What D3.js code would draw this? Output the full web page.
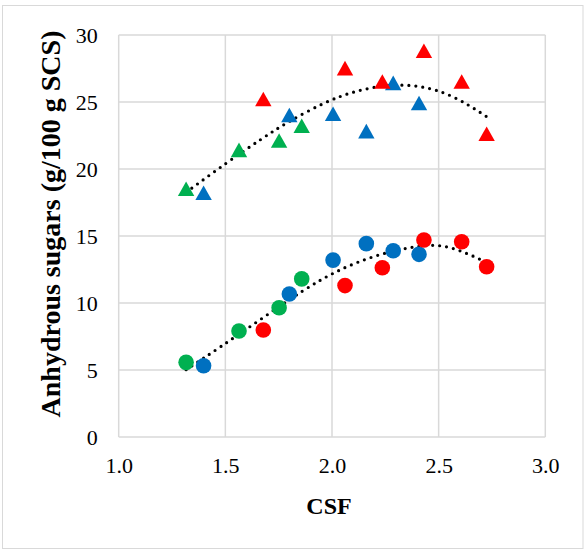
<!DOCTYPE html>
<html>
<head>
<meta charset="utf-8">
<script src="https://cdn.jsdelivr.net/npm/d3@7"></script>
<style>
  html, body { margin: 0; padding: 0; background: #fff; }
  svg { display: block; }
</style>
</head>
<body>
<svg id="chart" width="584" height="550"></svg>
<script>
// CSF values per group (shared by both responses)
const greenCSF = [1.316, 1.564, 1.752, 1.858];
const blueCSF  = [1.398, 1.800, 2.005, 2.161, 2.287, 2.408];
const redCSF   = [1.678, 2.061, 2.236, 2.431, 2.608, 2.725];

// Upper response (triangles)
const greenTri = [18.4, 21.3, 22.0, 23.1];
const blueTri  = [18.1, 23.9, 24.0, 22.7, 26.3, 24.8];
const redTri   = [25.1, 27.4, 26.4, 28.7, 26.4, 22.5];

// Lower response (circles)
const greenCirc = [5.57, 7.91, 9.65, 11.8];
const blueCirc  = [5.32, 10.67, 13.2, 14.43, 13.9, 13.63];
const redCirc   = [7.98, 11.3, 12.63, 14.7, 14.57, 12.71];

// Polynomial (order 2) trend lines, sampled along the CSF range
const trendCSF   = [1.316, 1.503, 1.662, 1.795, 1.962, 2.109, 2.261, 2.413, 2.565, 2.697, 2.725];
const trendUpper = [18.26, 20.42, 22.16, 23.50, 24.90, 25.77, 26.22, 26.14, 25.40, 24.20, 23.90];
const trendLowerCSF = [1.316, 1.478, 1.670, 1.862, 2.029, 2.209, 2.394, 2.548, 2.694, 2.725];
const trendLower    = [5.02, 6.74, 8.83, 10.89, 12.40, 13.53, 14.20, 14.15, 13.26, 13.05];

const xTicks = [1.0, 1.5, 2.0, 2.5, 3.0];
const yTicks = [0, 5, 10, 15, 20, 25, 30];

const colors = { green: "#00B050", blue: "#0070C0", red: "#FF0000" };
const FONT = '"Liberation Serif", "Times New Roman", Times, serif';

const svg = d3.select("#chart").attr("font-family", FONT);
const W = 584, H = 550;
const plot = { left: 118.7, right: 545.3, top: 35, bottom: 437 };

// outer chart frame
svg.append("rect")
  .attr("x", 2.5).attr("y", 5.5)
  .attr("width", W - 3.5).attr("height", H - 7)
  .attr("fill", "#fff").attr("stroke", "#D9D9D9").attr("stroke-width", 1);

const x = d3.scaleLinear().domain([1, 3]).range([plot.left, plot.right]);
const y = d3.scaleLinear().domain([0, 30]).range([plot.bottom, plot.top]);

// gridlines
const grid = svg.append("g").attr("stroke", "#D9D9D9").attr("stroke-width", 1.5);
grid.selectAll("line.v").data(xTicks).join("line")
  .attr("x1", d => x(d)).attr("x2", d => x(d))
  .attr("y1", plot.top).attr("y2", plot.bottom);
grid.selectAll("line.h").data(yTicks).join("line")
  .attr("x1", plot.left).attr("x2", plot.right)
  .attr("y1", d => y(d)).attr("y2", d => y(d));

// axes (tick labels only; lines come from the grid)
const xAxis = svg.append("g")
  .attr("transform", `translate(0,${plot.bottom})`)
  .call(d3.axisBottom(x).tickValues(xTicks).tickFormat(d3.format(".1f")).tickSize(0).tickPadding(20));
const yAxis = svg.append("g")
  .attr("transform", `translate(${plot.left},0)`)
  .call(d3.axisLeft(y).tickValues(yTicks).tickFormat(d3.format("d")).tickSize(0).tickPadding(21));
[xAxis, yAxis].forEach(g => {
  g.attr("font-family", FONT).attr("font-size", 22);
  g.select(".domain").remove();
  g.selectAll("text").attr("fill", "#000");
});

// axis titles
svg.append("text")
  .attr("x", 329).attr("y", 514)
  .attr("text-anchor", "middle")
  .attr("font-size", 24).attr("font-weight", "bold")
  .text("CSF");
svg.append("text")
  .attr("transform", "translate(60,224) rotate(-90)")
  .attr("text-anchor", "middle")
  .attr("font-size", 28).attr("font-weight", "bold")
  .text("Anhydrous sugars (g/100 g SCS)");

// dotted trend lines
const line = d3.line().x(d => x(d[0])).y(d => y(d[1])).curve(d3.curveNatural);
[[trendCSF, trendUpper], [trendLowerCSF, trendLower]].forEach(([xs, ys]) => {
  svg.append("path").datum(xs.map((xv, i) => [xv, ys[i]]))
    .attr("d", line)
    .attr("fill", "none").attr("stroke", "#000")
    .attr("stroke-width", 3.2).attr("stroke-linecap", "round")
    .attr("stroke-dasharray", "0 7");
});

// markers
const groups = [
  { c: colors.green, xs: greenCSF, tri: greenTri, circ: greenCirc },
  { c: colors.blue,  xs: blueCSF,  tri: blueTri,  circ: blueCirc },
  { c: colors.red,   xs: redCSF,   tri: redTri,   circ: redCirc }
];
const triPath = "M0,-9 L8.2,5.6 L-8.2,5.6 Z";
const marks = svg.append("g");
groups.forEach(g => {
  marks.append("g").selectAll("path").data(g.xs.map((xv, i) => [xv, g.tri[i]])).join("path")
    .attr("transform", d => `translate(${x(d[0])},${y(d[1])})`)
    .attr("d", triPath).attr("fill", g.c);
  marks.append("g").selectAll("circle").data(g.xs.map((xv, i) => [xv, g.circ[i]])).join("circle")
    .attr("cx", d => x(d[0])).attr("cy", d => y(d[1]))
    .attr("r", 7.8).attr("fill", g.c);
});
</script>
</body>
</html>
